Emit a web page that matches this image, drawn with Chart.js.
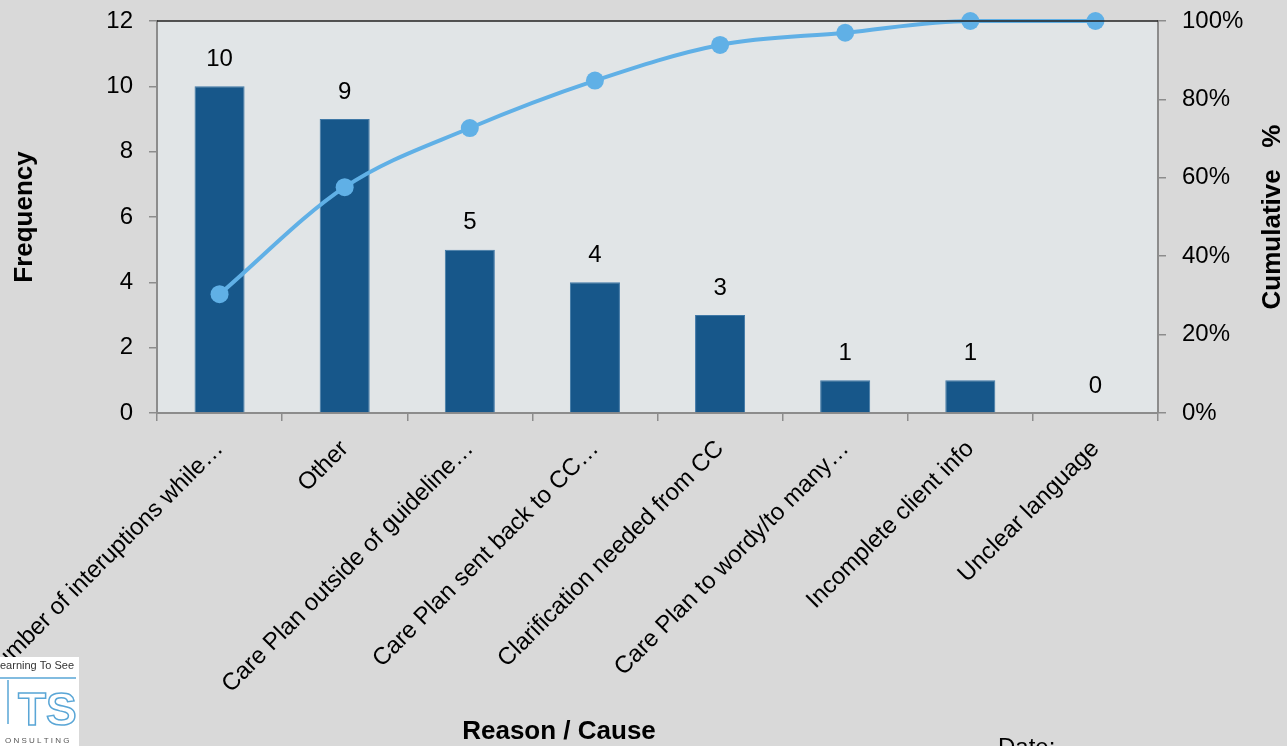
<!DOCTYPE html>
<html>
<head>
<meta charset="utf-8">
<script src="https://cdn.jsdelivr.net/npm/chart.js@4.4.0/dist/chart.umd.min.js"></script>
<style>
  html, body { margin: 0; padding: 0; background: #d9d9d9; }
  canvas { display: block; }
</style>
</head>
<body>
<canvas id="pareto" width="1287" height="746"></canvas>
<script>
// Pareto verileri
const causes = [
    'Number of interuptions while…',
    'Other',
    'Care Plan outside of guideline…',
    'Care Plan sent back to CC…',
    'Clarification needed from CC',
    'Care Plan to wordy/to many…',
    'Incomplete client info',
    'Unclear language'
];
const frequency = [10, 9, 5, 4, 3, 1, 1, 0];
const cumulativePct = [30.3, 57.6, 72.7, 84.8, 93.9, 97.0, 100, 100];
const freqTicks = [0, 2, 4, 6, 8, 10, 12];
const pctTicks = [0, 20, 40, 60, 80, 100];

const FONT = 'Liberation Sans, Arial, sans-serif';
const BAR_COLOR = '#17578a';
const LINE_COLOR = '#60b0e6';
const AXIS_GRAY = '#8c8c8c';

// arka plan, basliklar, etiketler ve logo
const decorPlugin = {
    id: 'decor',
    beforeDraw(chart) {
        const { ctx, chartArea: a } = chart;
        ctx.save();
        ctx.fillStyle = '#d9d9d9';
        ctx.fillRect(0, 0, chart.width, chart.height);
        ctx.fillStyle = '#e1e5e7';
        ctx.fillRect(a.left, a.top, a.right - a.left, a.bottom - a.top);
        ctx.restore();
    },
    afterDatasetsDraw(chart) {
        const { ctx } = chart;
        const meta = chart.getDatasetMeta(1); // bar serisi
        ctx.save();
        ctx.fillStyle = '#000';
        ctx.font = '24px ' + FONT;
        ctx.textAlign = 'center';
        ctx.textBaseline = 'middle';
        meta.data.forEach((bar, i) => {
            ctx.fillText(String(frequency[i]), bar.x, bar.y - 27);
        });
        ctx.restore();
    },
    afterDraw(chart) {
        const { ctx, chartArea: a } = chart;
        ctx.save();
        // ust cizgi
        ctx.strokeStyle = '#222';
        ctx.lineWidth = 1.5;
        ctx.beginPath();
        ctx.moveTo(a.left, a.top);
        ctx.lineTo(a.right, a.top);
        ctx.stroke();

        ctx.fillStyle = '#000';
        ctx.font = 'bold 26px ' + FONT;
        ctx.textAlign = 'center';
        ctx.textBaseline = 'middle';
        ctx.fillText('Reason / Cause', 559, 732);

        ctx.save();
        ctx.translate(25, 217);
        ctx.rotate(-Math.PI / 2);
        ctx.fillText('Frequency', 0, 0);
        ctx.restore();

        ctx.save();
        ctx.translate(1273, 217);
        ctx.rotate(-Math.PI / 2);
        ctx.fillText('Cumulative   %', 0, 0);
        ctx.restore();

        ctx.font = '24px ' + FONT;
        ctx.textAlign = 'left';
        ctx.textBaseline = 'top';
        ctx.fillText('Date:', 998, 736);

        // logo
        ctx.fillStyle = '#fff';
        ctx.fillRect(0, 657, 79, 89);
        ctx.fillStyle = '#333';
        ctx.font = '11px ' + FONT;
        ctx.fillText('earning To See', 0, 660);
        ctx.strokeStyle = '#5aa6d6';
        ctx.lineWidth = 1.5;
        ctx.font = 'bold 46px ' + FONT;
        ctx.textBaseline = 'alphabetic';
        ctx.strokeText('TS', 18, 725);
        ctx.beginPath();
        ctx.moveTo(0, 678); ctx.lineTo(76, 678);
        ctx.moveTo(8, 680); ctx.lineTo(8, 724);
        ctx.stroke();
        ctx.fillStyle = '#555';
        ctx.font = '8px ' + FONT;
        ctx.fillText('O N S U L T I N G', 5, 743);
        ctx.restore();
    }
};

const ctx = document.getElementById('pareto').getContext('2d');
new Chart(ctx, {
    data: {
        labels: causes,
        datasets: [
            {
                type: 'line',
                data: cumulativePct,
                yAxisID: 'y1',
                borderColor: LINE_COLOR,
                backgroundColor: LINE_COLOR,
                borderWidth: 4,
                pointRadius: 9,
                pointBorderWidth: 0,
                cubicInterpolationMode: 'monotone',
                clip: false,
                order: 0
            },
            {
                type: 'bar',
                data: frequency,
                yAxisID: 'y',
                backgroundColor: BAR_COLOR,
                borderColor: '#3f78a6',
                borderWidth: 1,
                categoryPercentage: 1,
                barPercentage: 0.4,
                order: 1
            }
        ]
    },
    options: {
        responsive: false,
        animation: false,
        devicePixelRatio: 1,
        layout: { padding: { top: 21, left: 0, right: 0, bottom: 0 } },
        plugins: { legend: { display: false }, tooltip: { enabled: false } },
        scales: {
            x: {
                offset: true,
                grid: { offset: true, color: 'transparent', tickColor: AXIS_GRAY, tickLength: 8, lineWidth: 1.5 },
                border: { color: AXIS_GRAY, width: 2 },
                ticks: {
                    color: '#000',
                    font: { family: FONT, size: 24 },
                    autoSkip: false,
                    minRotation: 45,
                    maxRotation: 45,
                    padding: 14
                },
                afterFit(scale) {
                    scale.height = 333;
                    scale.paddingLeft = 0;
                    scale.paddingRight = 0;
                }
            },
            y: {
                position: 'left',
                min: 0,
                max: 12,
                afterBuildTicks(scale) { scale.ticks = freqTicks.map(v => ({ value: v })); },
                grid: { color: 'transparent', tickColor: AXIS_GRAY, tickLength: 8, lineWidth: 1.5 },
                border: { color: AXIS_GRAY, width: 2 },
                ticks: { color: '#000', font: { family: FONT, size: 24 }, padding: 16 },
                afterFit(scale) {
                    scale.width = 157;
                    scale.paddingTop = 0;
                    scale.paddingBottom = 0;
                }
            },
            y1: {
                position: 'right',
                min: 0,
                max: 100,
                afterBuildTicks(scale) { scale.ticks = pctTicks.map(v => ({ value: v })); },
                grid: { drawOnChartArea: false, tickColor: AXIS_GRAY, tickLength: 8, lineWidth: 1.5 },
                border: { color: AXIS_GRAY, width: 2 },
                ticks: {
                    color: '#000',
                    font: { family: FONT, size: 24 },
                    padding: 16,
                    callback: v => v + '%'
                },
                afterFit(scale) {
                    scale.width = 129;
                    scale.paddingTop = 0;
                    scale.paddingBottom = 0;
                }
            }
        }
    },
    plugins: [decorPlugin]
});
</script>
</body>
</html>
